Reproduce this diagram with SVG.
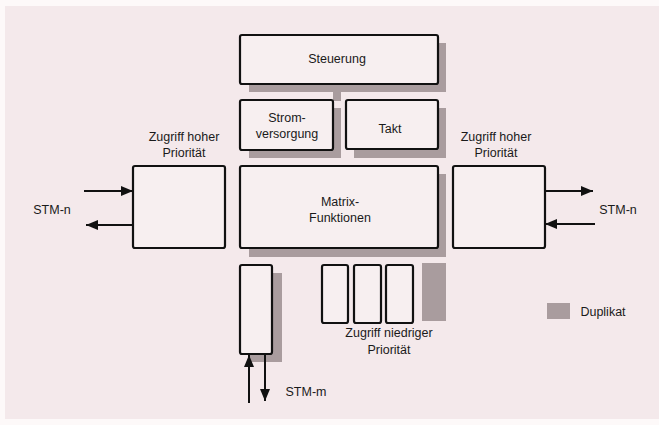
<svg xmlns="http://www.w3.org/2000/svg" width="659" height="425" viewBox="0 0 659 425">
<style>
.box{fill:#f7eff0;stroke:#111;stroke-width:2.2}
.sh{fill:#a99c9e}
.t{font-family:"Liberation Sans",Arial,sans-serif;font-size:12.5px;fill:#1a1a1a;text-anchor:middle}
.ln{stroke:#111;stroke-width:2;fill:none}
</style>
<defs>
<marker id="ah" viewBox="0 0 12 10" refX="12" refY="5" markerWidth="12" markerHeight="10" markerUnits="userSpaceOnUse" orient="auto">
<path d="M0,0 L12,5 L0,10 Z" fill="#111"/>
</marker>
</defs>
<rect x="0" y="0" width="659" height="425" fill="#fdf9f9"/>
<rect x="5" y="6" width="654" height="413" fill="#f4e9eb"/>

<g id="shadows">
<rect class="sh" x="249" y="43" width="197" height="49"/>
<rect class="sh" x="333" y="84" width="8" height="17"/>
<rect class="sh" x="249" y="108" width="92" height="50"/>
<rect class="sh" x="354" y="108" width="92" height="50"/>
<rect class="sh" x="249" y="174" width="197" height="83"/>
<rect class="sh" x="250" y="273" width="32" height="89"/>
</g>

<g id="steuerung">
<rect class="box" x="240" y="35" width="198" height="49" rx="2"/>
<text class="t" x="337" y="63">Steuerung</text>
</g>
<g id="strom">
<rect class="box" x="240" y="100" width="93" height="50" rx="2"/>
<text class="t" x="287" y="122">Strom-</text>
<text class="t" x="287" y="138">versorgung</text>
</g>
<g id="takt">
<rect class="box" x="346" y="100" width="92" height="49" rx="2"/>
<text class="t" x="390" y="133">Takt</text>
</g>
<g id="matrix">
<rect class="box" x="240" y="166" width="198" height="82" rx="2"/>
<text class="t" x="340" y="206">Matrix-</text>
<text class="t" x="340" y="222">Funktionen</text>
</g>
<g id="left-hp">
<rect class="box" x="133" y="166" width="92" height="82" rx="2"/>
<text class="t" x="184" y="141">Zugriff hoher</text>
<text class="t" x="184" y="157">Priorität</text>
</g>
<g id="right-hp">
<rect class="box" x="453" y="166" width="92" height="82" rx="2"/>
<text class="t" x="496" y="141">Zugriff hoher</text>
<text class="t" x="496" y="157">Priorität</text>
</g>
<g id="stm-m-box">
<rect class="box" x="240" y="265" width="32" height="89" rx="2"/>
</g>
<g id="low-prio">
<rect class="box" x="322" y="265" width="26" height="58" rx="2"/>
<rect class="box" x="354" y="265" width="27" height="58" rx="2"/>
<rect class="box" x="386" y="265" width="27" height="58" rx="2"/>
<rect class="sh" x="422" y="263" width="24" height="58"/>
<text class="t" x="389" y="337">Zugriff niedriger</text>
<text class="t" x="389" y="354">Priorität</text>
</g>
<g id="legend">
<rect class="sh" x="547" y="303" width="23" height="16"/>
<text class="t" x="603" y="316">Duplikat</text>
</g>

<g id="connectors">
<line class="ln" x1="84" y1="191" x2="133" y2="191" marker-end="url(#ah)"/>
<line class="ln" x1="133" y1="225" x2="86" y2="225" marker-end="url(#ah)"/>
<line class="ln" x1="545" y1="191" x2="593" y2="191" marker-end="url(#ah)"/>
<line class="ln" x1="595" y1="224" x2="545" y2="224" marker-end="url(#ah)"/>
<line class="ln" x1="249" y1="403" x2="249" y2="355" marker-end="url(#ah)"/>
<line class="ln" x1="265" y1="355" x2="265" y2="401" marker-end="url(#ah)"/>
</g>
<g id="labels">
<text class="t" x="52" y="214">STM-n</text>
<text class="t" x="618" y="214">STM-n</text>
<text class="t" x="306" y="396">STM-m</text>
</g>
</svg>
